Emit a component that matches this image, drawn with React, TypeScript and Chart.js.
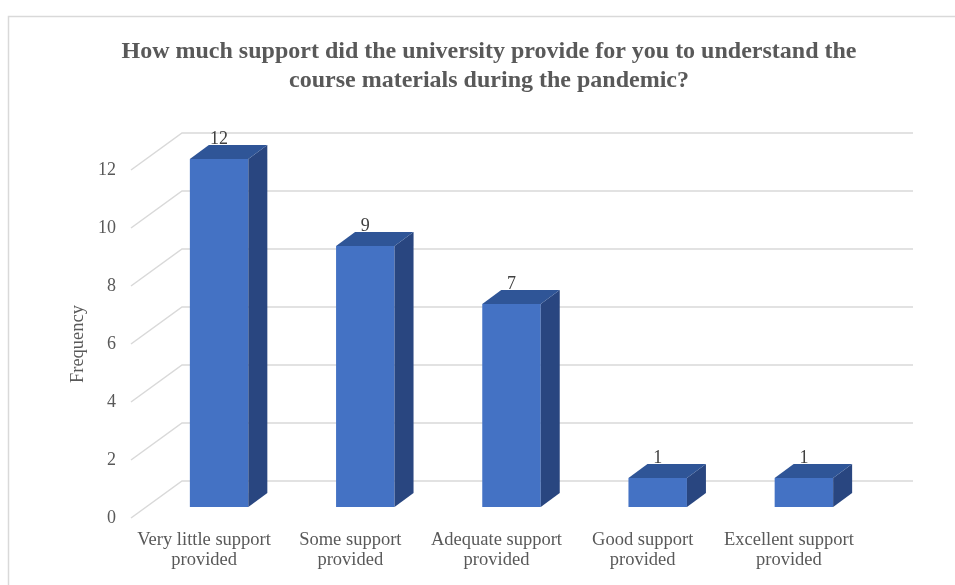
import React, { useEffect, useRef } from "react";
import { Chart, registerables } from "chart.js";

Chart.register(...registerables);

const categories: string[][] = [
  ["Very little support", "provided"],
  ["Some support", "provided"],
  ["Adequate support", "provided"],
  ["Good support", "provided"],
  ["Excellent support", "provided"],
];
const frequencies: number[] = [12, 9, 7, 1, 1];
const titleLines: string[] = [
  "How much support did the university provide for you to understand the",
  "course materials during the pandemic?",
];
const yAxisTitle = "Frequency";

const FONT = "'Liberation Serif', 'Times New Roman', serif";
const FRONT = "#4472C4";
const TOP = "#2F5597";
const SIDE = "#294680";
const GRID = "#D9D9D9";

// 3D geometry
const FLOOR_DX = 51;
const FLOOR_DY = -37;
const BAR_SHIFT_X = 15;
const BAR_SHIFT_Y = -11;
const BAR_DX = 19;
const BAR_DY = -14;

const threeD = {
  id: "threeD",
  beforeDraw(chart: any) {
    const ctx = chart.ctx;
    ctx.save();
    ctx.fillStyle = "#ffffff";
    ctx.fillRect(0, 0, chart.width, chart.height);
    ctx.strokeStyle = "#D9D9D9";
    ctx.lineWidth = 1.5;
    ctx.strokeRect(8.5, 16.5, chart.width + 50, chart.height + 50);
    // chart title
    ctx.fillStyle = "#595959";
    ctx.font = `bold 24px ${FONT}`;
    ctx.textAlign = "center";
    ctx.textBaseline = "middle";
    titleLines.forEach((line, i) => ctx.fillText(line, 489, 52 + i * 29));
    ctx.restore();
  },
  beforeDatasetsDraw(chart: any) {
    const ctx = chart.ctx;
    const y = chart.scales.y;
    const { left, right } = chart.chartArea;
    ctx.save();
    ctx.strokeStyle = GRID;
    ctx.lineWidth = 1.5;
    y.ticks.forEach((t: any) => {
      const py = y.getPixelForValue(t.value);
      ctx.beginPath();
      ctx.moveTo(left, py);
      ctx.lineTo(left + FLOOR_DX, py + FLOOR_DY);
      ctx.lineTo(right + FLOOR_DX, py + FLOOR_DY);
      ctx.stroke();
    });
    ctx.restore();
  },
  beforeDatasetDraw(chart: any) {
    chart.ctx.save();
    chart.ctx.translate(BAR_SHIFT_X, BAR_SHIFT_Y);
  },
  afterDatasetDraw(chart: any, args: any) {
    const ctx = chart.ctx;
    const meta = chart.getDatasetMeta(args.index);
    meta.data.forEach((bar: any, i: number) => {
      const { x, y, base, width } = bar.getProps(["x", "y", "base", "width"], true);
      const l = x - width / 2;
      const r = x + width / 2;
      ctx.fillStyle = SIDE;
      ctx.beginPath();
      ctx.moveTo(r, y);
      ctx.lineTo(r + BAR_DX, y + BAR_DY);
      ctx.lineTo(r + BAR_DX, base + BAR_DY);
      ctx.lineTo(r, base);
      ctx.closePath();
      ctx.fill();
      ctx.fillStyle = TOP;
      ctx.beginPath();
      ctx.moveTo(l, y);
      ctx.lineTo(l + BAR_DX, y + BAR_DY);
      ctx.lineTo(r + BAR_DX, y + BAR_DY);
      ctx.lineTo(r, y);
      ctx.closePath();
      ctx.fill();
      ctx.fillStyle = "#404040";
      ctx.font = `18px ${FONT}`;
      ctx.textAlign = "center";
      ctx.textBaseline = "alphabetic";
      ctx.fillText(String(frequencies[i]), x, y + BAR_DY - 1);
    });
    ctx.restore();
  },
};

export default function App() {
  const ref = useRef<HTMLCanvasElement | null>(null);
  useEffect(() => {
    document.body.style.margin = "0";
    if (!ref.current) return;
    const chart = new Chart(ref.current, {
      type: "bar",
      data: {
        labels: categories,
        datasets: [
          {
            data: frequencies,
            backgroundColor: FRONT,
            borderWidth: 0,
            categoryPercentage: 1,
            barPercentage: 0.4,
            clip: false as any,
          },
        ],
      },
      options: {
        responsive: false,
        animation: false,
        layout: { padding: { left: 0, right: 93, top: 170, bottom: 0 } },
        plugins: {
          legend: { display: false },
          tooltip: { enabled: false },
          title: { display: false },
        },
        scales: {
          x: {
            grid: { display: false, drawTicks: false },
            border: { display: false },
            ticks: {
              color: "#595959",
              font: { family: FONT, size: 18.5, lineHeight: 20 / 18.5 },
              padding: 12,
              maxRotation: 0,
              autoSkip: false,
            },
            afterFit: (s: any) => {
              s.height = 67;
            },
          },
          y: {
            min: 0,
            max: 12,
            grid: { display: false, drawTicks: false },
            border: { display: false },
            ticks: {
              stepSize: 2,
              color: "#595959",
              font: { family: FONT, size: 18 },
              padding: 15,
            },
            title: {
              display: true,
              text: yAxisTitle,
              color: "#595959",
              font: { family: FONT, size: 18.5 },
              padding: { top: 67, bottom: 0 },
            },
            afterFit: (s: any) => {
              s.width = 131;
            },
          },
        },
      },
      plugins: [threeD],
    });
    return () => chart.destroy();
  }, []);
  return (
    <div style={{ width: 955, height: 585 }}>
      <canvas ref={ref} width={955} height={585} style={{ display: "block" }} />
    </div>
  );
}
